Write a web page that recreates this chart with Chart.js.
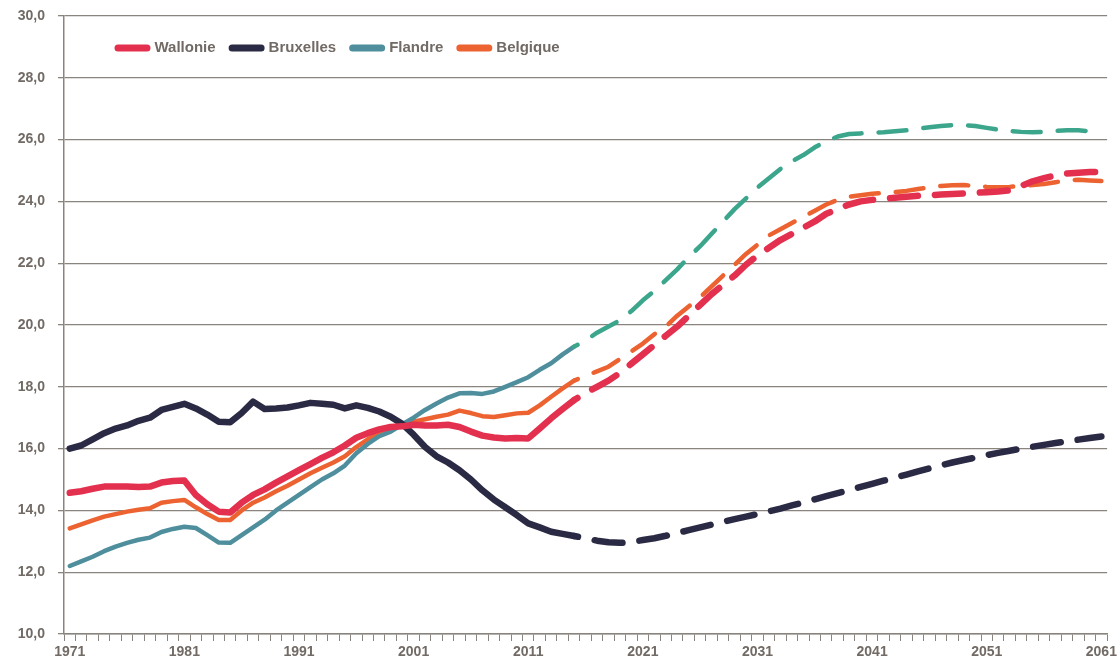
<!DOCTYPE html>
<html>
<head>
<meta charset="utf-8">
<script src="https://cdn.jsdelivr.net/npm/chart.js@4.4.1/dist/chart.umd.min.js"></script>
<style>
  html, body { margin: 0; padding: 0; background: #fff; }
  #wrap { width: 1120px; height: 669px; position: relative; }
</style>
</head>
<body>
<div id="wrap"><canvas id="chart"></canvas></div>
<script>
// années (axe des x)
const years = [
    1971, 1972, 1973, 1974, 1975, 1976, 1977, 1978, 1979, 1980,
    1981, 1982, 1983, 1984, 1985, 1986, 1987, 1988, 1989, 1990,
    1991, 1992, 1993, 1994, 1995, 1996, 1997, 1998, 1999, 2000,
    2001, 2002, 2003, 2004, 2005, 2006, 2007, 2008, 2009, 2010,
    2011, 2012, 2013, 2014, 2015, 2016, 2017, 2018, 2019, 2020,
    2021, 2022, 2023, 2024, 2025, 2026, 2027, 2028, 2029, 2030,
    2031, 2032, 2033, 2034, 2035, 2036, 2037, 2038, 2039, 2040,
    2041, 2042, 2043, 2044, 2045, 2046, 2047, 2048, 2049, 2050,
    2051, 2052, 2053, 2054, 2055, 2056, 2057, 2058, 2059, 2060,
    2061
];

// dernière année observée, ensuite projections (tirets)
const lastObservedYear = 2015;

const wallonie = [
    14.57, 14.62, 14.7, 14.77, 14.77, 14.77, 14.76, 14.77, 14.9, 14.95,
    14.97, 14.5, 14.2, 13.96, 13.93, 14.25, 14.5, 14.68, 14.9, 15.1,
    15.3, 15.5, 15.7, 15.88, 16.1, 16.35, 16.5, 16.62, 16.7, 16.72,
    16.77, 16.75, 16.75, 16.77, 16.7, 16.55, 16.42, 16.36, 16.33, 16.34,
    16.33, 16.65, 16.98, 17.28, 17.57,
    17.8, 18.0, 18.2, 18.45, 18.75, 19.05, 19.35, 19.65, 19.95, 20.3,
    20.65, 21.0, 21.3, 21.6, 21.95, 22.25, 22.5, 22.75, 22.95, 23.15,
    23.35, 23.6, 23.75, 23.9, 24.0, 24.05, 24.08, 24.12, 24.15, 24.18,
    24.2, 24.22, 24.24, 24.26, 24.28, 24.3, 24.32, 24.36, 24.5, 24.65,
    24.75, 24.85, 24.9, 24.93, 24.95, 24.95
];

const bruxelles = [
    16.0, 16.1, 16.3, 16.5, 16.65, 16.75, 16.9, 17.0, 17.25, 17.35,
    17.45, 17.3, 17.1, 16.87, 16.85, 17.15, 17.52, 17.28, 17.3, 17.33,
    17.4, 17.48, 17.45, 17.42, 17.3, 17.4, 17.32, 17.2, 17.03, 16.8,
    16.45, 16.05, 15.75, 15.55, 15.3, 15.0, 14.65, 14.35, 14.1, 13.85,
    13.58, 13.45, 13.31, 13.24, 13.17,
    13.1, 13.02, 12.97, 12.95, 12.98, 13.04, 13.1, 13.18, 13.27, 13.36,
    13.45, 13.54, 13.63, 13.72, 13.8, 13.88, 13.97, 14.06, 14.16, 14.26,
    14.36, 14.46, 14.56, 14.66, 14.76, 14.86, 14.96, 15.06, 15.16, 15.26,
    15.36, 15.46, 15.55, 15.63, 15.71, 15.79, 15.86, 15.93, 16.0, 16.06,
    16.12, 16.18, 16.24, 16.29, 16.34, 16.39
];

const flandre = [
    12.2, 12.35, 12.5, 12.68, 12.83, 12.95, 13.05, 13.12, 13.3, 13.4,
    13.47, 13.43, 13.2, 12.96, 12.95, 13.2, 13.45, 13.7, 14.0, 14.25,
    14.5, 14.75, 15.0, 15.2, 15.45, 15.85, 16.15, 16.4, 16.55, 16.78,
    17.0, 17.25, 17.46, 17.65, 17.79, 17.8, 17.77, 17.85, 18.0, 18.15,
    18.31, 18.55, 18.76, 19.05, 19.3,
    19.5, 19.75, 19.95, 20.15, 20.45, 20.8, 21.1, 21.45, 21.8, 22.2,
    22.55, 22.95, 23.35, 23.75, 24.1, 24.45, 24.75, 25.05, 25.3, 25.5,
    25.75, 25.95, 26.1, 26.18, 26.2, 26.22, 26.24, 26.27, 26.3, 26.35,
    26.4, 26.44, 26.47, 26.47, 26.44, 26.38, 26.32, 26.28, 26.25, 26.24,
    26.25, 26.28, 26.3, 26.3, 26.27, 26.22
];

const belgique = [
    13.42, 13.55, 13.68, 13.8, 13.88, 13.96, 14.02, 14.07, 14.25, 14.3,
    14.34, 14.1, 13.88, 13.69, 13.69, 14.0, 14.25, 14.42, 14.62, 14.8,
    15.0, 15.2, 15.38, 15.55, 15.75, 16.05, 16.3, 16.5, 16.65, 16.77,
    16.87, 16.95, 17.03, 17.1, 17.23, 17.15, 17.05, 17.02, 17.08, 17.14,
    17.16, 17.4, 17.68, 17.95, 18.2,
    18.35, 18.5, 18.65, 18.9, 19.15, 19.4, 19.7, 19.95, 20.3, 20.6,
    20.9, 21.25, 21.6, 21.95, 22.3, 22.6, 22.9, 23.1, 23.3, 23.5,
    23.7, 23.9, 24.05, 24.15, 24.2, 24.25, 24.27, 24.3, 24.34, 24.4,
    24.45, 24.5, 24.52, 24.53, 24.5, 24.47, 24.46, 24.47, 24.5, 24.53,
    24.56, 24.62, 24.68, 24.7, 24.68, 24.66
];

const grey = '#8a847f';
const textGrey = '#716a65';
const font = 'Liberation Sans, Arial, sans-serif';
const lastIdx = years.indexOf(lastObservedYear);

// tirets pour la partie projetée
const dashAfter = (ctx) => ctx.p0DataIndex >= lastIdx ? [28, 17] : undefined;

const makeSet = (label, data, color, width, projColor) => ({
    label: label,
    data: data,
    borderColor: color,
    borderWidth: width,
    borderCapStyle: 'round',
    borderJoinStyle: 'round',
    borderDashOffset: 24,
    pointRadius: 0,
    pointHoverRadius: 0,
    fill: false,
    tension: 0,
    segment: {
        borderDash: dashAfter,
        borderColor: projColor ? (ctx) => ctx.p0DataIndex >= lastIdx ? projColor : undefined : undefined
    }
});

// légende dessinée dans la zone du graphique
const innerLegend = {
    id: 'innerLegend',
    afterDraw(chart) {
        const c = chart.ctx;
        let x = chart.chartArea.left + 54;
        const y = 48;
        c.save();
        c.font = 'bold 15px ' + font;
        c.textBaseline = 'middle';
        chart.data.datasets.forEach(ds => {
            c.strokeStyle = ds.borderColor;
            c.lineWidth = 7;
            c.lineCap = 'round';
            c.beginPath();
            c.moveTo(x, y);
            c.lineTo(x + 29, y);
            c.stroke();
            x += 29 + 3.5 + 4;
            c.fillStyle = textGrey;
            c.fillText(ds.label, x, y);
            x += c.measureText(ds.label).width + 13 + 3.5;
        });
        c.restore();
    }
};

new Chart(document.getElementById('chart'), {
    type: 'line',
    data: {
        labels: years,
        datasets: [
            makeSet('Wallonie', wallonie, '#e3304f', 6.5),
            makeSet('Bruxelles', bruxelles, '#2b2a45', 6.5),
            makeSet('Flandre', flandre, '#4f8f9d', 4.5, '#3ca68c'),
            makeSet('Belgique', belgique, '#ec6331', 4.5)
        ]
    },
    options: {
        responsive: true,
        maintainAspectRatio: false,
        animation: false,
        layout: { padding: { top: 16, right: 10, left: 0, bottom: 0 } },
        plugins: {
            legend: { display: false },
            tooltip: { enabled: false }
        },
        scales: {
            x: {
                type: 'category',
                offset: true,
                afterFit: (s) => { s.height = 35; },
                grid: {
                    offset: true,
                    drawOnChartArea: false,
                    drawTicks: true,
                    tickLength: 7,
                    color: grey,
                    lineWidth: 1
                },
                border: { display: true, color: grey, width: 1.5 },
                ticks: {
                    autoSkip: false,
                    maxRotation: 0,
                    minRotation: 0,
                    padding: 3,
                    color: textGrey,
                    font: { family: font, size: 14, weight: 'bold' },
                    callback: function (v, i) {
                        const yr = years[i];
                        return (yr - 1971) % 10 === 0 ? String(yr) : '';
                    }
                }
            },
            y: {
                min: 10,
                max: 30,
                afterFit: (s) => { s.width = 64; s.paddingTop = 0; s.paddingBottom = 0; },
                grid: {
                    color: grey,
                    lineWidth: 1.3,
                    drawTicks: true,
                    tickLength: 6
                },
                border: { display: true, color: grey, width: 1.5 },
                ticks: {
                    stepSize: 2,
                    padding: 13,
                    color: textGrey,
                    font: { family: font, size: 14, weight: 'bold' },
                    callback: (v) => v.toFixed(1).replace('.', ',')
                }
            }
        }
    },
    plugins: [innerLegend]
});
</script>
</body>
</html>
